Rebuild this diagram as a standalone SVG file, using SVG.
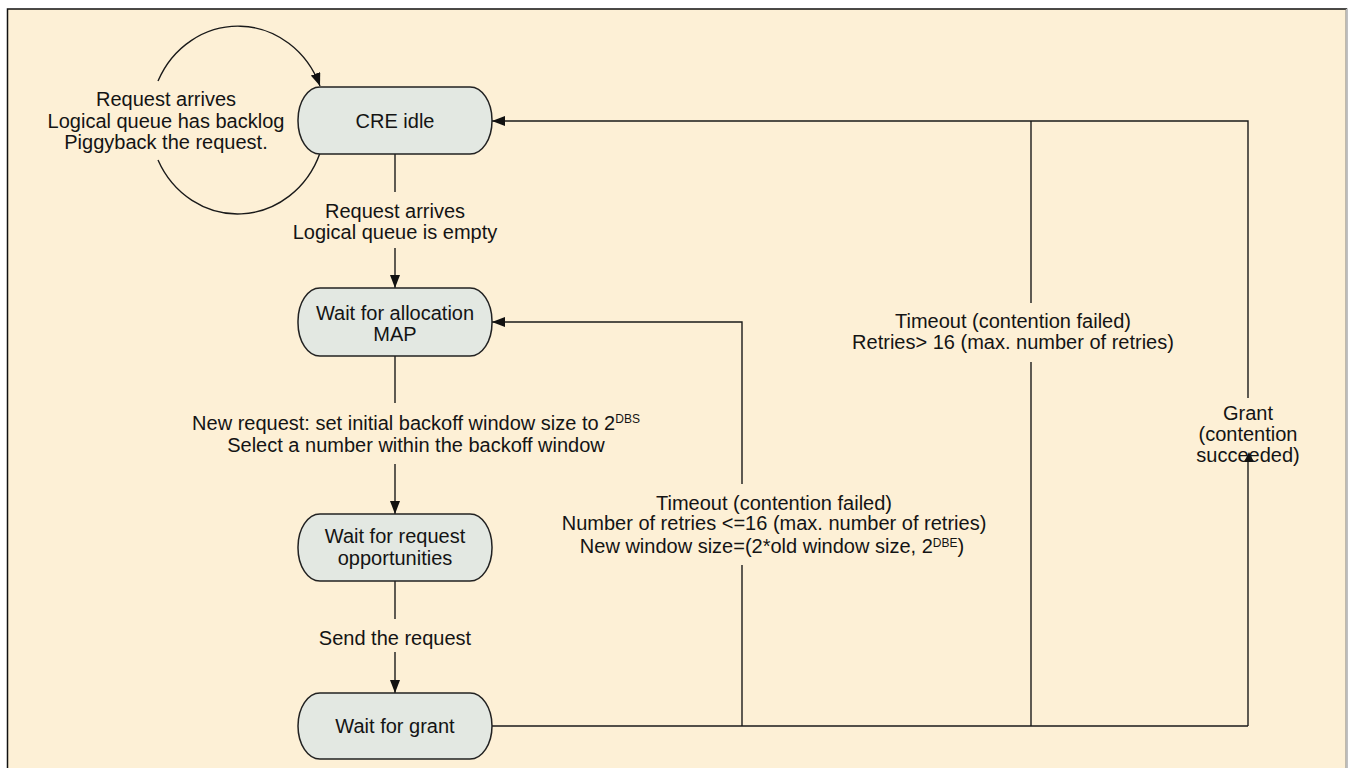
<svg xmlns="http://www.w3.org/2000/svg" width="1348" height="768" viewBox="0 0 1348 768">
<style>
.t{font-family:"Liberation Sans",Arial,sans-serif;font-size:20px;fill:#141414;text-anchor:middle}
.sup{font-size:12px}
.node{fill:#e3e8e2;stroke:#222;stroke-width:1.5}
.c{fill:none;stroke:#1a1a1a;stroke-width:1.4}
</style>
<defs>
<marker id="ah" markerUnits="userSpaceOnUse" markerWidth="13" markerHeight="10" refX="13" refY="5" orient="auto">
<path d="M0,0 L13,5 L0,10 z" fill="#111"/>
</marker>
</defs>
<rect x="0" y="0" width="1348" height="768" fill="#ffffff"/>
<rect x="7.5" y="9" width="1339" height="770" fill="#fdf0d6" stroke="#111" stroke-width="1.5"/>
<line x1="1346.5" y1="9" x2="1346.5" y2="768" stroke="#bbb" stroke-width="1.5"/>

<g id="connectors">
<path class="c" d="M158,81 A88,94 0 0 1 320,86" marker-end="url(#ah)"/>
<path class="c" d="M320,153 A88,94 0 0 1 158,160"/>
<line class="c" x1="395" y1="154" x2="395" y2="192"/>
<line class="c" x1="395" y1="248" x2="395" y2="288" marker-end="url(#ah)"/>
<line class="c" x1="395" y1="356" x2="395" y2="403"/>
<line class="c" x1="395" y1="464" x2="395" y2="514" marker-end="url(#ah)"/>
<line class="c" x1="395" y1="581" x2="395" y2="619"/>
<line class="c" x1="395" y1="652" x2="395" y2="693" marker-end="url(#ah)"/>
<line class="c" x1="492" y1="726" x2="1248" y2="726"/>
<polyline class="c" points="742,726 742,565"/>
<polyline class="c" points="742,484 742,322 492,322" marker-end="url(#ah)"/>
<polyline class="c" points="1031,726 1031,362"/>
<line class="c" x1="1031" y1="303" x2="1031" y2="121"/>
<polyline class="c" points="1248,726 1248,457"/>
<path d="M1244,462 L1249,452 L1254,462 z" fill="#111"/>
<polyline class="c" points="1248,398 1248,121 492,121" marker-end="url(#ah)"/>
</g>

<g id="loop-label">
<text class="t" x="166" y="106">Request arrives</text>
<text class="t" x="166" y="128">Logical queue has backlog</text>
<text class="t" x="166" y="149">Piggyback the request.</text>
</g>

<g id="n-idle">
<rect class="node" x="298" y="87" width="194" height="67" rx="22" ry="33"/>
<text class="t" x="395" y="128">CRE idle</text>
</g>

<g id="l-empty">
<text class="t" x="395" y="218">Request arrives</text>
<text class="t" x="395" y="239">Logical queue is empty</text>
</g>

<g id="n-map">
<rect class="node" x="298" y="288" width="194" height="68" rx="22" ry="33"/>
<text class="t" x="395" y="320">Wait for allocation</text>
<text class="t" x="395" y="341">MAP</text>
</g>

<g id="l-new">
<text class="t" x="416" y="430">New request: set initial backoff window size to 2<tspan class="sup" dy="-7">DBS</tspan></text>
<text class="t" x="416" y="452">Select a number within the backoff window</text>
</g>

<g id="n-opp">
<rect class="node" x="298" y="514" width="194" height="67" rx="22" ry="33"/>
<text class="t" x="395" y="543">Wait for request</text>
<text class="t" x="395" y="565">opportunities</text>
</g>

<g id="l-send">
<text class="t" x="395" y="645">Send the request</text>
</g>

<g id="n-grant">
<rect class="node" x="298" y="693" width="194" height="66" rx="22" ry="33"/>
<text class="t" x="395" y="733">Wait for grant</text>
</g>

<g id="l-retry">
<text class="t" x="774" y="510">Timeout (contention failed)</text>
<text class="t" x="774" y="530">Number of retries &lt;=16 (max. number of retries)</text>
<text class="t" x="772" y="553">New window size=(2*old window size, 2<tspan class="sup" dy="-6">DBE</tspan><tspan dy="6">)</tspan></text>
</g>

<g id="l-fail">
<text class="t" x="1013" y="328">Timeout (contention failed)</text>
<text class="t" x="1013" y="349">Retries&gt; 16 (max. number of retries)</text>
</g>

<g id="l-grant">
<text class="t" x="1248" y="420">Grant</text>
<text class="t" x="1248" y="441">(contention</text>
<text class="t" x="1248" y="462">succeeded)</text>
</g>
</svg>
